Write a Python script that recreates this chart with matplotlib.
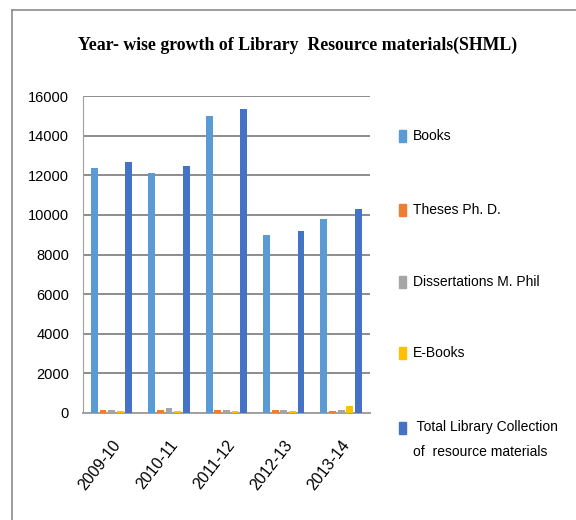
import matplotlib
matplotlib.use("Agg")
import matplotlib.pyplot as plt
import numpy as np
from matplotlib.patches import Rectangle
from matplotlib.lines import Line2D

years = ["2009-10", "2010-11", "2011-12", "2012-13", "2013-14"]
books = [12370, 12110, 15020, 8980, 9815]
theses = [150, 160, 150, 140, 90]
dissertations = [160, 240, 170, 150, 170]
ebooks = [90, 90, 90, 90, 360]
total = [12670, 12470, 15360, 9185, 10325]

series_names = ["Books", "Theses Ph. D.", "Dissertations M. Phil", "E-Books",
                " Total Library Collection\nof  resource materials"]
colors = ["#5B9BD5", "#ED7D31", "#A5A5A5", "#FFC000", "#4472C4"]
yticks = [0, 2000, 4000, 6000, 8000, 10000, 12000, 14000, 16000]

sans = ["Liberation Sans", "DejaVu Sans"]

fig = plt.figure(figsize=(5.76, 5.2), dpi=100)
ax = fig.add_axes([0.144, 0.206, 0.498, 0.609])

x = np.arange(len(years))
data = [books, theses, dissertations, ebooks, total]
step = 0.15
for i, (vals, c) in enumerate(zip(data, colors)):
    ax.bar(x + (i - 2) * step, vals, width=0.12, color=c, zorder=3)

ax.set_xlim(-0.5, len(years) - 0.5)
ax.set_ylim(0, 16000)
ax.set_yticks(yticks)
ax.set_yticklabels([str(t) for t in yticks], family=sans, fontsize=10.5)
ax.tick_params(axis='y', length=0, pad=10)
ax.tick_params(axis='x', length=0, pad=18)
ax.set_xticks(x)
ax.set_xticklabels(years, rotation=52, ha='right', rotation_mode='anchor',
                   family=sans, fontsize=11.5)
ax.grid(axis='y', color='#8C8C8C', linewidth=1.4, zorder=0)
for s in ['top', 'right']:
    ax.spines[s].set_visible(False)
ax.spines['left'].set_color('#A0A0A0')
ax.spines['bottom'].set_color('#A0A0A0')
ax.spines['bottom'].set_linewidth(1.4)

fig.text(0.517, 0.913, "Year- wise growth of Library  Resource materials(SHML)",
         ha='center', va='center', family=["Liberation Serif"], fontweight='bold',
         fontsize=12.8)

# legend drawn manually
leg_y = [136, 210, 282, 353, 428]
for name, c, yy in zip(series_names, colors, leg_y):
    fig.patches.append(Rectangle((399 / 576, 1 - (yy + 6) / 520), 7 / 576, 12 / 520,
                                 transform=fig.transFigure, color=c))
    if '\n' in name:
        fig.text(413 / 576, 1 - (yy - 8) / 520, name, ha='left', va='top',
                 family=sans, fontsize=10, linespacing=2.0)
    else:
        fig.text(413 / 576, 1 - yy / 520, name, ha='left', va='center',
                 family=sans, fontsize=10)

# outer frame lines (top and left)
fig.add_artist(Line2D([12 / 576, 1], [1 - 10 / 520, 1 - 10 / 520],
                      transform=fig.transFigure, color='#8C8C8C', linewidth=1.2))
fig.add_artist(Line2D([12 / 576, 12 / 576], [0, 1 - 10 / 520],
                      transform=fig.transFigure, color='#8C8C8C', linewidth=1.2))

fig.savefig("out.png", dpi=100)
